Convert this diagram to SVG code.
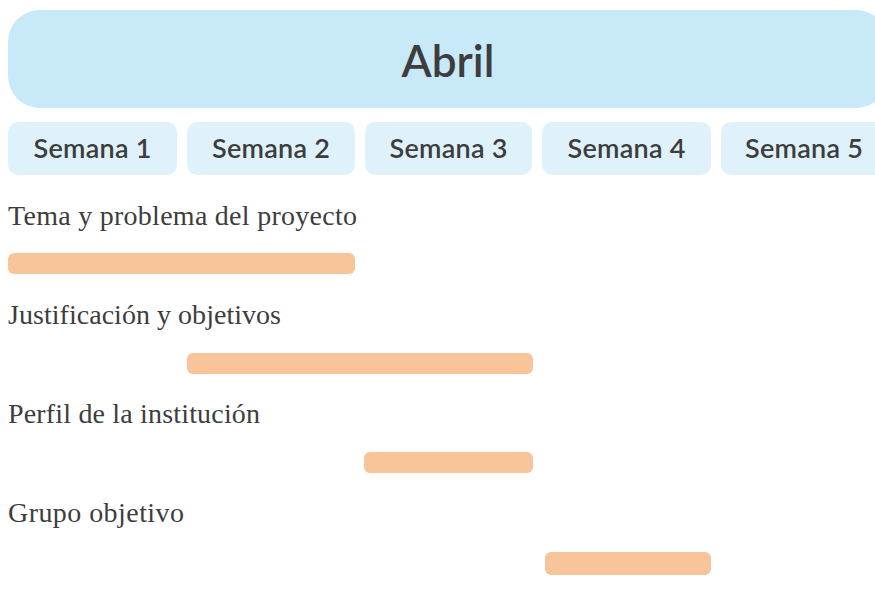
<svg xmlns="http://www.w3.org/2000/svg" width="875" height="604" viewBox="0 0 875 604">
<style>
.month{fill:#c7e9f8}
.week{fill:#dff2fb}
.bar{fill:#f8c499}
.title{font-family:Lato,"Noto Sans",sans-serif;font-weight:600;font-size:44px;fill:#3d3d3d;text-anchor:middle}
.wk{font-family:Lato,"Noto Sans",sans-serif;font-weight:600;font-size:27px;fill:#3d3d3d;text-anchor:middle}
.lbl{font-family:"Liberation Serif","DejaVu Serif",serif;font-size:28px;fill:#3d3d3d}
</style>
<rect width="875" height="604" fill="#ffffff"/>
<g id="header">
<rect class="month" x="8" y="10" width="880" height="98" rx="32"/>
<text class="title" x="448" y="77">Abril</text>
</g>
<g id="weeks">
<g id="week1"><rect class="week" x="8" y="122" width="169" height="53" rx="10"/><text class="wk" x="92.5" y="158" textLength="118">Semana 1</text></g>
<g id="week2"><rect class="week" x="187" y="122" width="168" height="53" rx="10"/><text class="wk" x="271" y="158" textLength="118">Semana 2</text></g>
<g id="week3"><rect class="week" x="365" y="122" width="167" height="53" rx="10"/><text class="wk" x="448.5" y="158" textLength="118">Semana 3</text></g>
<g id="week4"><rect class="week" x="542" y="122" width="169" height="53" rx="10"/><text class="wk" x="626.5" y="158" textLength="118">Semana 4</text></g>
<g id="week5"><rect class="week" x="721" y="122" width="170" height="53" rx="10"/><text class="wk" x="804" y="158" textLength="118">Semana 5</text></g>
</g>
<g id="task1">
<text class="lbl" x="8" y="225" textLength="349">Tema y problema del proyecto</text>
<rect class="bar" x="8" y="253" width="347" height="21" rx="6"/>
</g>
<g id="task2">
<text class="lbl" x="8" y="324" textLength="273">Justificación y objetivos</text>
<rect class="bar" x="187" y="353" width="346" height="21" rx="6"/>
</g>
<g id="task3">
<text class="lbl" x="8" y="423" textLength="252">Perfil de la institución</text>
<rect class="bar" x="364" y="452" width="169" height="21" rx="6"/>
</g>
<g id="task4">
<text class="lbl" x="8" y="522" textLength="176">Grupo objetivo</text>
<rect class="bar" x="545" y="552" width="166" height="23" rx="6"/>
</g>
<g id="connectors"/>
</svg>
